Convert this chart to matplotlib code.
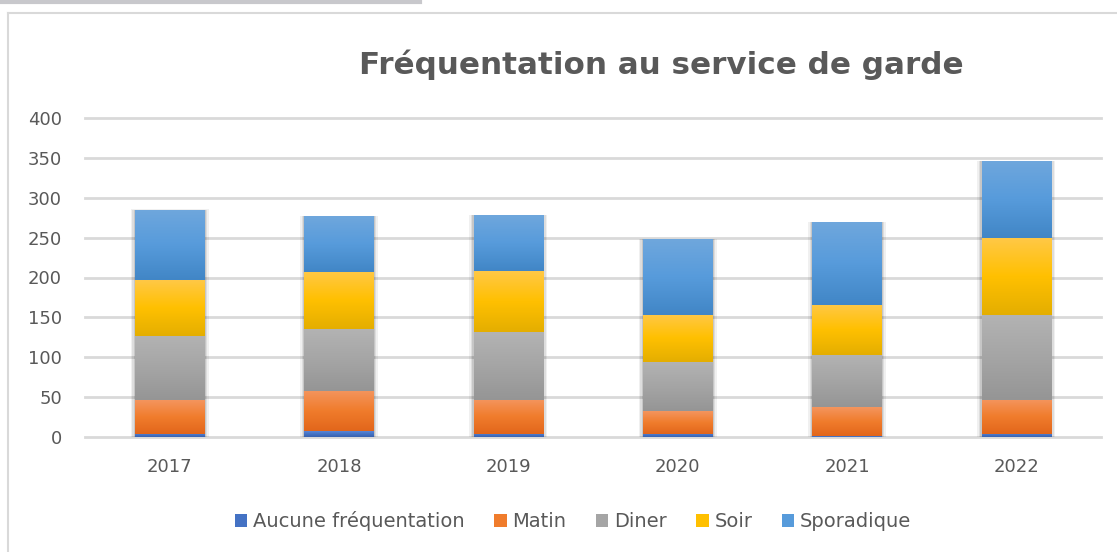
import numpy as np
import matplotlib
matplotlib.use('Agg')
import matplotlib.pyplot as plt
from matplotlib.colors import to_rgb
from matplotlib.patches import Rectangle
from matplotlib.lines import Line2D

plt.rcParams['font.family'] = ['DejaVu Sans']

years = ['2017', '2018', '2019', '2020', '2021', '2022']
series_names = ['Aucune fréquentation', 'Matin', 'Diner', 'Soir', 'Sporadique']
aucune = [4, 7, 4, 4, 1, 4]
matin = [42, 51, 43, 28, 36, 43]
diner = [81, 77, 85, 62, 66, 106]
soir = [70, 72, 76, 59, 63, 96]
sporadique = [88, 70, 70, 95, 103, 97]

# (top, middle, bottom) gradient colours for each series
gradients = [
    ('#5A86D6', '#4472C4', '#3A62AE'),
    ('#F4955E', '#F07C2C', '#E2661B'),
    ('#B3B3B3', '#A5A5A5', '#959595'),
    ('#FFC846', '#FFC000', '#E4AE00'),
    ('#6FA7DD', '#579BDB', '#4186C6'),
]
text_color = '#595959'
grid_color = '#D9D9D9'

fig = plt.figure(figsize=(11.17, 5.52), dpi=100)
ax = fig.add_axes([85 / 1117, 1 - 437 / 552, (1101 - 85) / 1117, (437 - 118) / 552])

x = np.arange(len(years))
width = 0.41
bottom = np.zeros(len(years))
data = [aucune, matin, diner, soir, sporadique]

# soft shadow behind each full bar
totals = np.sum(data, axis=0)
for i, t in enumerate(totals):
    for k, a in [(0.05, 0.06), (0.03, 0.08), (0.015, 0.1)]:
        ax.add_patch(Rectangle((x[i] - width / 2 - k * 0.5, 0), width + k, t + k * 8,
                               color='black', alpha=a, lw=0, zorder=1))

for vals, name, grad in zip(data, series_names, gradients):
    bars = ax.bar(x, vals, width, bottom=bottom, color=grad[1], label=name,
                  zorder=2, linewidth=0)
    top, mid, bot = [np.array(to_rgb(c)) for c in grad]
    t = np.linspace(0, 1, 128)[:, None]
    col = np.where(t < 0.5, top + (mid - top) * (t / 0.5), mid + (bot - mid) * ((t - 0.5) / 0.5))
    img = col[:, None, :]
    for b in bars:
        if b.get_height() <= 0:
            continue
        x0, y0 = b.get_x(), b.get_y()
        im = ax.imshow(img, extent=[x0, x0 + b.get_width(), y0, y0 + b.get_height()],
                       aspect='auto', zorder=3, interpolation='bilinear')
        im.set_clip_path(b)
    bottom += np.array(vals)

ax.set_xlim(-0.5, len(years) - 0.5)
ax.set_ylim(0, 400)
ax.set_yticks(range(0, 401, 50))
ax.set_xticks(x)
ax.set_xticklabels(years)
ax.yaxis.grid(True, color=grid_color, linewidth=2)
for gl in ax.get_ygridlines():
    gl.set_clip_on(False)
ax.set_axisbelow(True)
for s in ax.spines.values():
    s.set_visible(False)
ax.tick_params(axis='both', length=0, labelsize=13, colors=text_color)
ax.tick_params(axis='y', pad=16.5)
ax.tick_params(axis='x', pad=15)

fig.text(661 / 1117, 1 - 65 / 552, 'Fréquentation au service de garde', ha='center', va='center',
         fontsize=22.3, fontweight='bold', color=text_color)

ax.legend(loc='center', bbox_to_anchor=(573 / 1117, 1 - 521 / 552), bbox_transform=fig.transFigure,
          ncol=5, frameon=False, fontsize=14, labelcolor=text_color, handlelength=0.65,
          handleheight=0.65, handletextpad=0.3, columnspacing=1.5)

# chart border and the grey strip above it
fig.add_artist(Line2D([8 / 1117, 8 / 1117], [0, 1 - 13 / 552], transform=fig.transFigure,
                      color='#D9D9D9', lw=1.5))
fig.add_artist(Line2D([8 / 1117, 1], [1 - 13 / 552, 1 - 13 / 552], transform=fig.transFigure,
                      color='#D9D9D9', lw=1.5))
fig.add_artist(Line2D([0, 420 / 1117], [1 - 1.5 / 552, 1 - 1.5 / 552], transform=fig.transFigure,
                      color='#C8C8CC', lw=3))

fig.savefig('out.png', dpi=100)
